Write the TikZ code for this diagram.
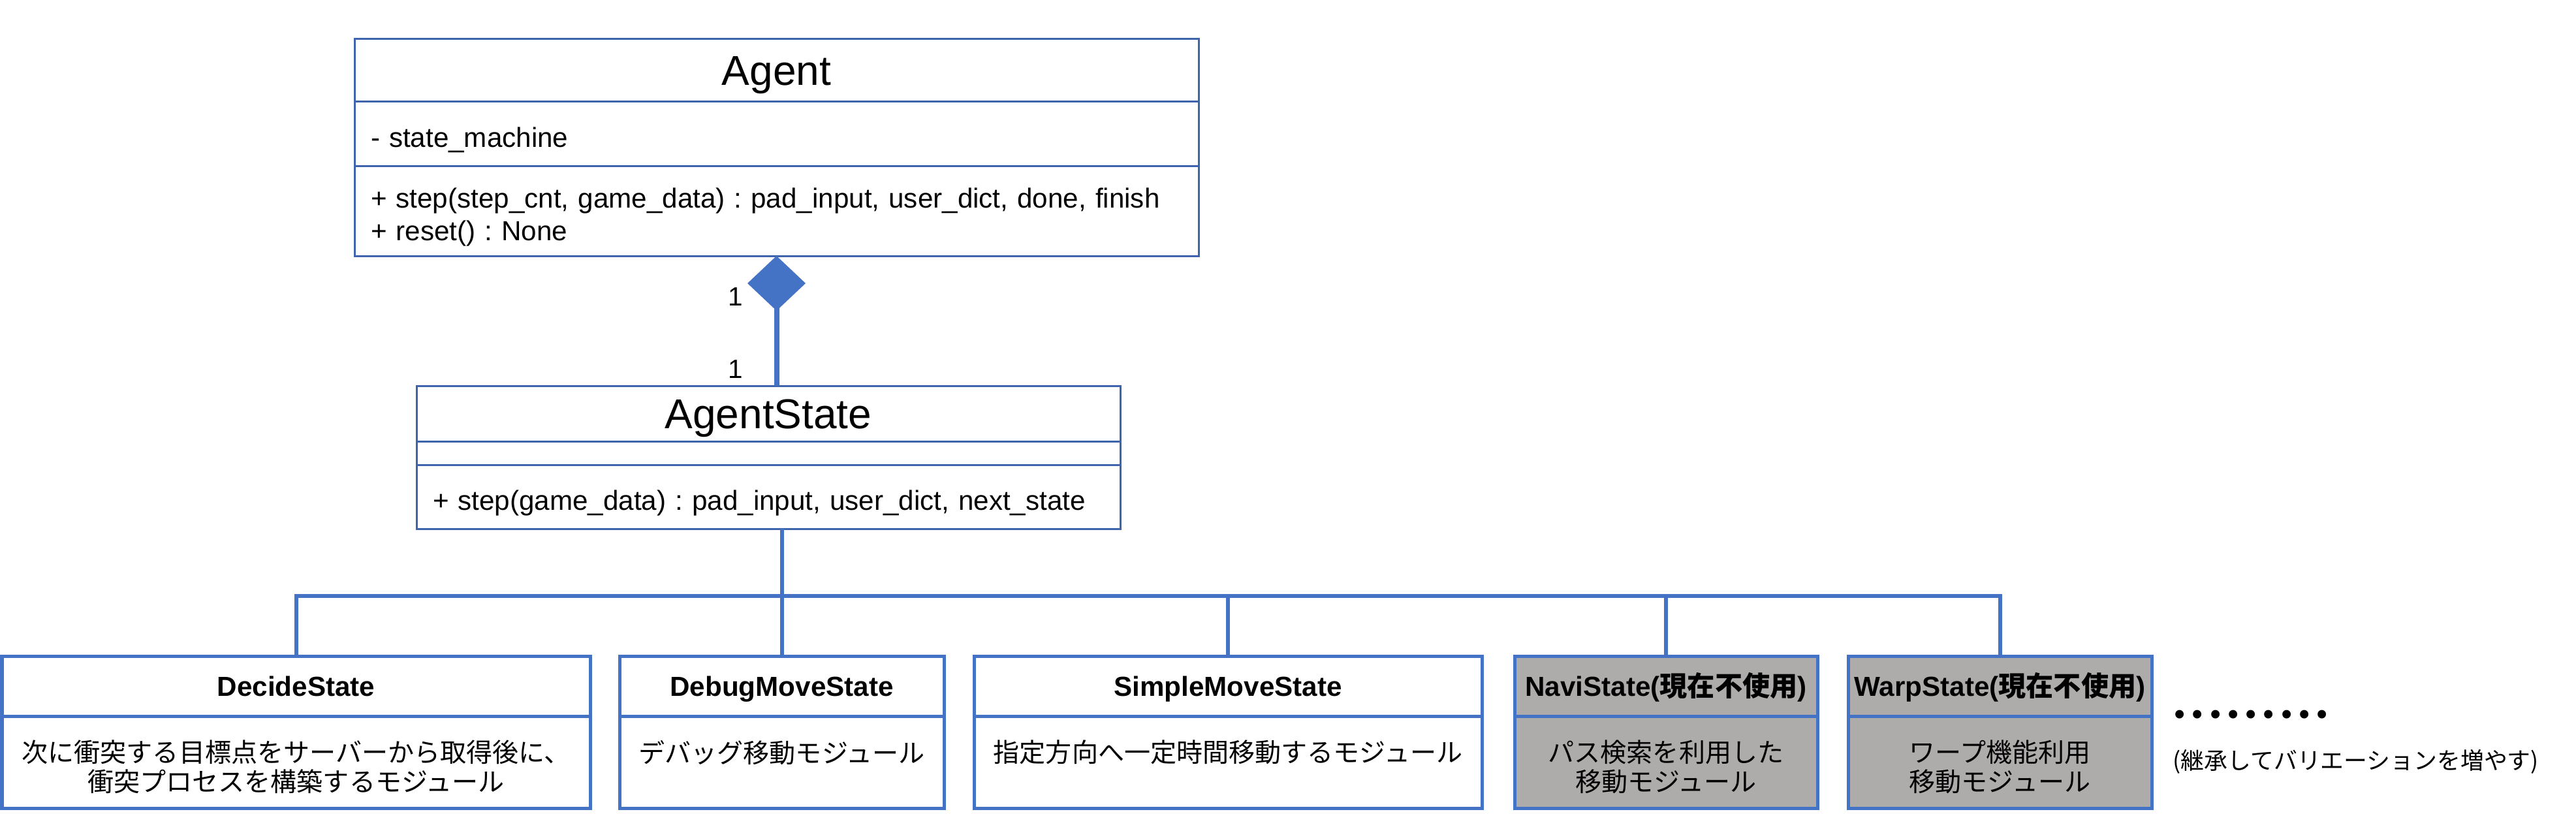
\documentclass[tikz,border=0pt]{standalone}
\usepackage{fontspec}
\setmainfont{Liberation Sans}
\newfontfamily\jp{Noto Sans CJK JP}
\newfontfamily\dotfont{Liberation Serif}
\usetikzlibrary{arrows.meta,positioning}

\definecolor{umlblue}{RGB}{68,114,196}
\definecolor{umlline}{RGB}{62,100,173}
\definecolor{unused}{RGB}{174,171,171}

% top aligned text of a module box
\newcommand{\modtext}[2]{\parbox[c][1.41cm][t]{#1}{\centering\vspace*{0.37cm}\jp #2}}

\begin{document}
\frenchspacing
\begin{tikzpicture}[
  umlbox/.style={draw=umlline, line width=0.03cm, inner sep=0pt, outer sep=0pt},
  clshead/.style={umlbox, font=\fontsize{18.2pt}{20pt}\selectfont, text height=0.46cm, text depth=0pt},
  clsmem/.style={umlbox, inner xsep=0.25cm, align=left, text height=0.5cm,
    font=\fontsize{12pt}{0.5cm}\selectfont},
  modhead/.style={draw=umlblue, line width=0.05cm, inner sep=0pt, outer sep=0pt, minimum height=0.92cm,
    font=\fontsize{12pt}{14pt}\selectfont\bfseries, text height=0.31cm, text depth=0pt},
  modbody/.style={draw=umlblue, line width=0.05cm, inner sep=0pt, outer sep=0pt,
    font=\fontsize{11.4pt}{0.45cm}\selectfont},
  unusedmod/.style={fill=unused},
  link/.style={draw=umlblue, line width=0.06cm},
  mult/.style={font=\fontsize{11.5pt}{13pt}\selectfont, inner sep=0pt}
]
  \useasboundingbox (0,0) rectangle (39.46,-12.46);

  % Agent
  \node[clshead, minimum width=12.93cm, minimum height=0.96cm, anchor=north west] (agent) at (5.43,-0.59) {Agent};
  \node[clsmem, text width=12.43cm, minimum height=0.99cm, below=0pt of agent] (agentAttr) {- state\_machine};
  \node[clsmem, text width=12.43cm, minimum height=1.38cm, below=0pt of agentAttr] (agentOps)
    {+ step(step\_cnt, game\_data) : pad\_input, user\_dict, done, finish\\+ reset() : None};

  % AgentState
  \node[clshead, minimum width=10.78cm, minimum height=0.85cm, anchor=north west] (state) at (6.38,-5.91) {AgentState};
  \node[clsmem, text width=10.28cm, text height=0pt, minimum height=0.36cm, below=0pt of state] (stateAttr) {};
  \node[clsmem, text width=10.28cm, minimum height=0.98cm, below=0pt of stateAttr] (stateOps)
    {+ step(game\_data) : pad\_input, user\_dict, next\_state};

  % Composition
  \draw[draw=umlblue, line width=0.08cm, {Diamond[length=0.84cm, width=0.89cm, fill=umlblue]}-]
    (agentOps.south) -- (agentOps.south |- state.north);
  \node[mult] (multAgent) at (11.27,-4.55) {1};
  \node[mult] (multState) at (11.27,-5.66) {1};

  % States
  \node[modhead, minimum width=9.01cm, anchor=north west] (decide) at (0.03,-10.05) {DecideState};
  \node[modbody, below=0pt of decide] (decideBody)
    {\modtext{9.01cm}{次に衝突する目標点をサーバーから取得後に、\\衝突プロセスを構築するモジュール}};

  \node[modhead, minimum width=4.97cm, anchor=north west] (debug) at (9.49,-10.05) {DebugMoveState};
  \node[modbody, below=0pt of debug] (debugBody) {\modtext{4.97cm}{デバッグ移動モジュール}};

  \node[modhead, minimum width=7.78cm, anchor=north west] (simple) at (14.92,-10.05) {SimpleMoveState};
  \node[modbody, below=0pt of simple] (simpleBody) {\modtext{7.78cm}{指定方向へ一定時間移動するモジュール}};

  \node[modhead, unusedmod, minimum width=4.64cm, anchor=north west] (navi) at (23.20,-10.05) {NaviState({\jp 現在不使用})};
  \node[modbody, unusedmod, below=0pt of navi] (naviBody) {\modtext{4.64cm}{パス検索を利用した\\移動モジュール}};

  \node[modhead, unusedmod, minimum width=4.65cm, anchor=north west] (warp) at (28.31,-10.05) {WarpState({\jp 現在不使用})};
  \node[modbody, unusedmod, below=0pt of warp] (warpBody) {\modtext{4.65cm}{ワープ機能利用\\移動モジュール}};

  % Inheritance tree
  \coordinate (bar) at (0,-9.13);
  \draw[link] (decide.north) |- (bar -| warp.north) -- (warp.north);
  \draw[link] (stateOps.south -| debug.north) -- (debug.north);
  \draw[link] (simple.north) -- (simple.north |- bar);
  \draw[link] (navi.north) -- (navi.north |- bar);

  % More variations
  \node[font=\fontsize{31pt}{33pt}\selectfont\dotfont, inner sep=0pt, anchor=base west] (more) at (33.25,-10.99) {.........};
  \node[font=\fontsize{10.2pt}{12pt}\selectfont\jp, inner sep=0pt, anchor=west] (moreNote) at (33.28,-11.67)
    {(継承してバリエーションを増やす)};
\end{tikzpicture}
\end{document}
